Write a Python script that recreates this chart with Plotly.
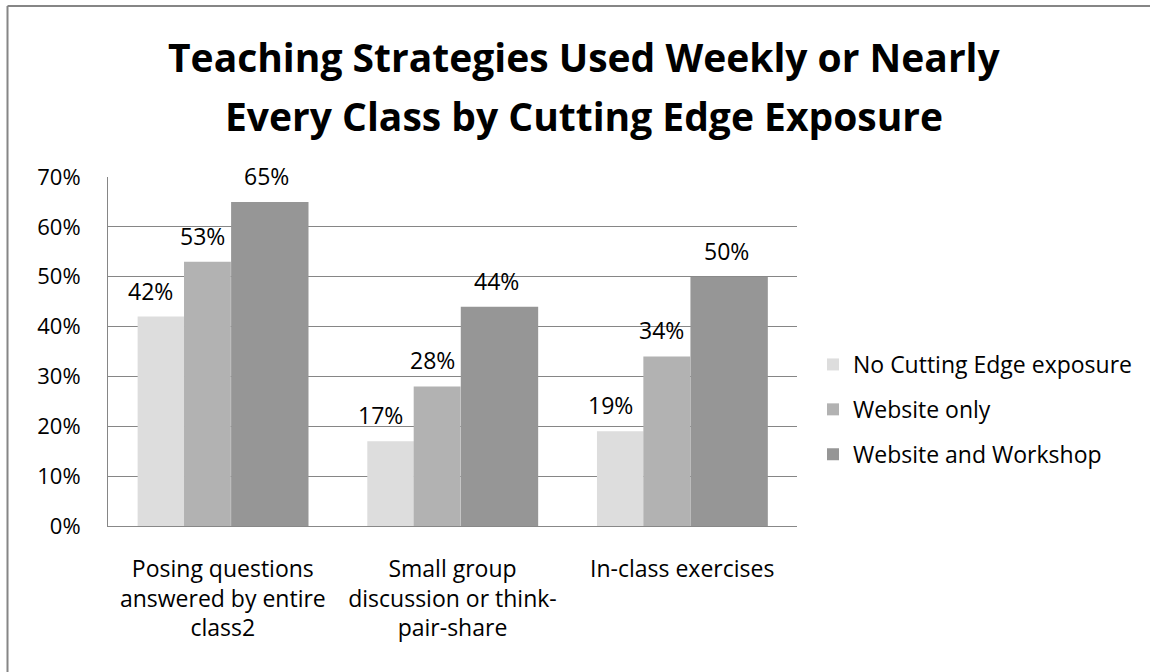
import plotly.graph_objects as go

categories = ["Posing questions<br>answered by entire<br>class2",
              "Small group<br>discussion or think-<br>pair-share",
              "In-class exercises"]
series_names = ["No Cutting Edge exposure", "Website only", "Website and Workshop"]
no_exposure = [0.42, 0.17, 0.19]
website_only = [0.53, 0.28, 0.34]
website_workshop = [0.65, 0.44, 0.50]
title_lines = ["Teaching Strategies Used Weekly or Nearly",
               "Every Class by Cutting Edge Exposure"]
colors = ["#DDDDDD", "#B2B2B2", "#969696"]
offsets = [-0.371, -0.169, 0.036]
widths = [0.203, 0.204, 0.337]
label_shift = [-10, -5, -3]

W, H = 1150, 672
L, R, T, B = 108, 797, 177, 526
FONT = "Open Sans"

fig = go.Figure()
all_series = [no_exposure, website_only, website_workshop]
for name, vals, c, off, w in zip(series_names, all_series, colors, offsets, widths):
    fig.add_trace(go.Bar(
        x=list(range(len(categories))), y=vals, name=name,
        marker=dict(color=c, line=dict(width=0)),
        offset=off, width=w, legendgroup=name,
    ))

pw, ph = R - L, B - T
def px_x(x):
    return (x - L) / pw
def px_y(y):
    return (B - y) / ph

annotations = []
for vals, off, w, sh in zip(all_series, offsets, widths, label_shift):
    for i, v in enumerate(vals):
        annotations.append(dict(
            x=i + off + w / 2, y=v, xref="x", yref="y",
            text=f"{round(v*100)}%", showarrow=False,
            yshift=26, xshift=sh, font=dict(family=FONT, size=23, color="#000000"),
        ))
for line, yc in zip(title_lines, [56, 116]):
    annotations.append(dict(
        x=px_x(584), y=px_y(yc), xref="paper", yref="paper",
        xanchor="center", yanchor="middle", text=f"<b>{line}</b>",
        showarrow=False, font=dict(family=FONT, size=39, color="#000000"),
    ))

border = dict(type="line", xref="paper", yref="paper",
              line=dict(color="#868686", width=2), layer="below")

fig.update_layout(
    width=W, height=H,
    margin=dict(l=L, r=W - R, t=T, b=H - B, autoexpand=False),
    paper_bgcolor="white", plot_bgcolor="white",
    barmode="overlay",
    font=dict(family=FONT, size=22, color="#000000"),
    xaxis=dict(
        range=[-0.5, 2.5], tickmode="array", tickvals=list(range(len(categories))),
        ticktext=categories, showgrid=False, showline=True, linecolor="#888888",
        linewidth=1, ticks="", ticklabelstandoff=22, zeroline=False,
        tickfont=dict(family=FONT, size=23, color="#000000"),
    ),
    yaxis=dict(
        range=[0, 0.7], dtick=0.1, tickformat=".0%", showgrid=True,
        gridcolor="#868686", gridwidth=1, showline=True, linecolor="#868686",
        linewidth=1, ticks="", ticklabelstandoff=22, zeroline=False,
        tickfont=dict(family=FONT, size=22, color="#000000"),
    ),
    legend=dict(
        x=px_x(813), y=px_y(343), xanchor="left", yanchor="top",
        font=dict(family=FONT, size=23, color="#000000"),
        tracegroupgap=12, bgcolor="rgba(0,0,0,0)", traceorder="grouped",
    ),
    annotations=annotations,
    shapes=[
        dict(border, x0=px_x(7.5), x1=px_x(1160), y0=px_y(6), y1=px_y(6)),
        dict(border, x0=px_x(7.5), x1=px_x(7.5), y0=px_y(6), y1=px_y(690)),
    ],
)

fig.write_html("out.html", config={"displayModeBar": False},
               post_script="document.body.style.margin='0';document.body.style.padding='0';")
